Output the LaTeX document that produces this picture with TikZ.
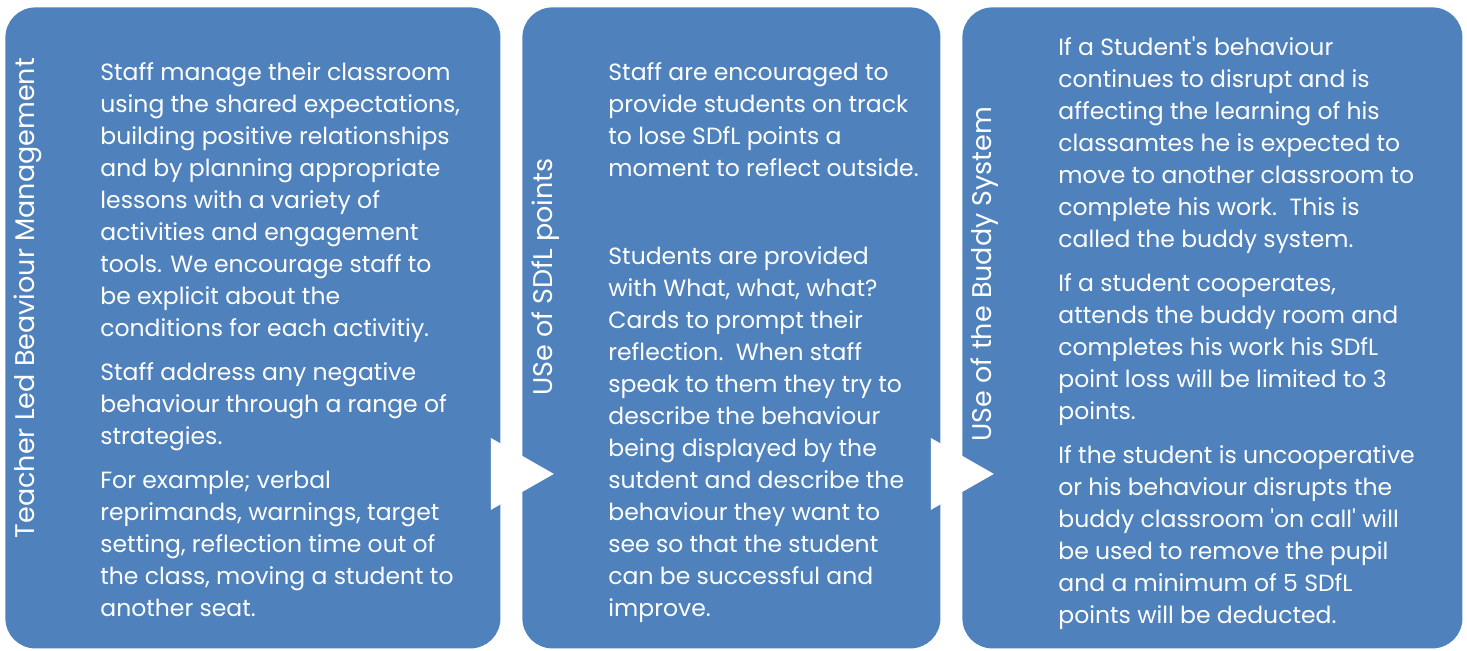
\documentclass[tikz,border=0pt]{standalone}
\usepackage{fontspec}
\setmainfont{Poppins}
\usetikzlibrary{positioning, calc}
\definecolor{stageblue}{RGB}{79,129,189}
\tikzset{
    stage/.style={fill=stageblue, draw=none, rounded corners=15pt, anchor=north west,
        minimum height=320.5pt, inner sep=0pt},
    heading/.style={text=white, rotate=90, inner sep=0pt, font=\fontsize{13.5}{16}\selectfont},
    body/.style={text=white, anchor=north west, align=left, inner sep=0pt,
        font=\fontsize{11.75}{16}\selectfont},
    tip/.style={fill=white, draw=none},
}

\begin{document}
\begin{tikzpicture}[x=0.5pt, y=-0.5pt]
    \useasboundingbox (0,0) rectangle (1467,650);

    % the three stages
    \node[stage, minimum width=247.5pt] (box1) at (5,7) {};
    \node[stage, minimum width=209pt] (box2) at (522,7) {};
    \node[stage, minimum width=250pt] (box3) at (962,7) {};

    % arrows between the stages
    \fill[tip] ($(box1.east)+(-10,110)$) -- ++(63,36) -- ++(-63,36) -- cycle;
    \fill[tip] ($(box2.east)+(-10,110)$) -- ++(63,36) -- ++(-63,36) -- cycle;

    % side headings
    \node[heading] (head1) at (28,298) {Teacher Led Beaviour Management};
    \node[heading] (head2) at (546,277) {USe of SDfL points};
    \node[heading] (head3) at (985,274) {USe of the Buddy System};

    \node[body] (text1) at (100,62) {Staff manage their classroom\\
        using the shared expectations,\\
        building positive relationships\\
        and by planning appropriate\\
        lessons with a variety of\\
        activities and engagement\\
        tools. We encourage staff to\\
        be explicit about the\\
        conditions for each activitiy.\\[6pt]
        Staff address any negative\\
        behaviour through a range of\\
        strategies.\\[6pt]
        For example; verbal\\
        reprimands, warnings, target\\
        setting, reflection time out of\\
        the class, moving a student to\\
        another seat.};

    \node[body] (text2) at (608,62) {Staff are encouraged to\\
        provide students on track\\
        to lose SDfL points a\\
        moment to reflect outside.\\[28pt]
        Students are provided\\
        with What, what, what?\\
        Cards to prompt their\\
        reflection.\ \ When staff\\
        speak to them they try to\\
        describe the behaviour\\
        being displayed by the\\
        sutdent and describe the\\
        behaviour they want to\\
        see so that the student\\
        can be successful and\\
        improve.};

    \node[body] (text3) at (1058,36) {If a Student\textquotesingle s behaviour\\
        continues to disrupt and is\\
        affecting the learning of his\\
        classamtes he is expected to\\
        move to another classroom to\\
        complete his work.\ \ This is\\
        called the buddy system.\\[6pt]
        If a student cooperates,\\
        attends the buddy room and\\
        completes his work his SDfL\\
        point loss will be limited to 3\\
        points.\\[6pt]
        If the student is uncooperative\\
        or his behaviour disrupts the\\
        buddy classroom \textquotesingle on call\textquotesingle\ will\\
        be used to remove the pupil\\
        and a minimum of 5 SDfL\\
        points will be deducted.};
\end{tikzpicture}
\end{document}
